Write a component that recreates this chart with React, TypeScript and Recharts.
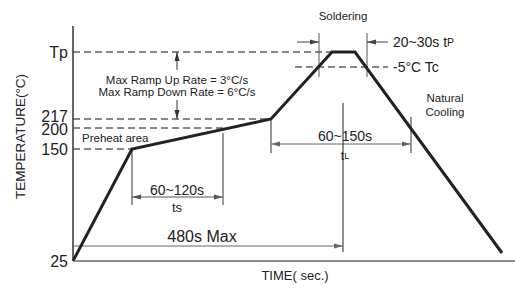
import React from "react";
import {
  LineChart,
  Line,
  XAxis,
  YAxis,
  ReferenceLine,
  ReferenceDot,
} from "recharts";

const FONT = "'Liberation Sans', Arial, Helvetica, sans-serif";

// schematic profile (time units and temperature levels are drawing units, the chart is not to scale)
const profileTime = [0, 59, 198, 259, 282, 429];
const profileLevel = [0, 112, 142, 209, 209, 8];

// y ticks
const tickLabels = ["25", "150", "200", "217", "Tp"];
const tickLevels = [0, 112, 133, 142, 209];
// small vertical nudges so 200 and 217 do not run into each other
const tickNudge = [0, 0, 1, -3, 0];
// where each dashed guide meets the curve (150, 200, 217, Tp)
const guideEnds = [59, 152, 198, 259];
const tcLevel = 194;

const data = profileTime.map((t, i) => ({ t, v: profileLevel[i] }));

type Seg = { x1: number; y1: number; x2: number; y2: number; start?: boolean; end?: boolean; color?: string };

const dims: Seg[] = [
  // max ramp rate arrows
  { x1: 104, y1: 191, x2: 104, y2: 209, end: true, color: "#333" },
  { x1: 104, y1: 161, x2: 104, y2: 142, end: true, color: "#333" },
  // ts
  { x1: 59, y1: 112, x2: 59, y2: 56, color: "#333" },
  { x1: 150, y1: 128, x2: 150, y2: 56, color: "#333" },
  { x1: 59, y1: 64, x2: 150, y2: 64, start: true, end: true, color: "#555" },
  // soldering tp
  { x1: 246, y1: 228, x2: 246, y2: 184, color: "#555" },
  { x1: 294, y1: 228, x2: 294, y2: 184, color: "#555" },
  { x1: 224, y1: 219, x2: 246, y2: 219, end: true, color: "#444" },
  { x1: 315, y1: 219, x2: 294, y2: 219, end: true, color: "#444" },
  // tL
  { x1: 198, y1: 142, x2: 198, y2: 108, color: "#333" },
  { x1: 338, y1: 144, x2: 338, y2: 108, color: "#333" },
  { x1: 198, y1: 117, x2: 338, y2: 117, start: true, end: true, color: "#666" },
  // 480s max
  { x1: 270, y1: 158, x2: 270, y2: 9, color: "#222" },
  { x1: 0, y1: 15, x2: 270, y2: 15, end: true, color: "#666" },
];

type Note = { t: number; v: number; text: string; sub?: string; size: number; anchor?: "start" | "middle" | "end" };

const notes: Note[] = [
  { t: 270, v: 245, text: "Soldering", size: 11.5 },
  { t: 320, v: 219, text: "20~30s t", sub: "P", size: 14, anchor: "start" },
  { t: 320, v: 194, text: "-5°C Tc", size: 14, anchor: "start" },
  { t: 104, v: 181, text: "Max Ramp Up Rate = 3°C/s", size: 11.5 },
  { t: 104, v: 169, text: "Max Ramp Down Rate = 6°C/s", size: 11.5 },
  { t: 9, v: 123, text: "Preheat area", size: 11.5, anchor: "start" },
  { t: 372, v: 163, text: "Natural", size: 11.5 },
  { t: 372, v: 149, text: "Cooling", size: 11.5 },
  { t: 272, v: 125, text: "60~150s", size: 14 },
  { t: 272, v: 105, text: "t", sub: "L", size: 12 },
  { t: 104, v: 71, text: "60~120s", size: 14 },
  { t: 104, v: 54, text: "ts", size: 13 },
  { t: 129, v: 25, text: "480s Max", size: 16 },
];

const head = (x: number, y: number, fx: number, fy: number, color: string) => {
  const dx = x - fx;
  const dy = y - fy;
  const len = Math.hypot(dx, dy) || 1;
  const ux = dx / len;
  const uy = dy / len;
  const bx = x - ux * 9;
  const by = y - uy * 9;
  const px = -uy * 2.5;
  const py = ux * 2.5;
  return <polygon points={`${x},${y} ${bx + px},${by + py} ${bx - px},${by - py}`} fill={color} />;
};

const arrowShape = (s: Seg) => (p: any) => {
  const c = s.color || "#444";
  const { x1, y1, x2, y2 } = p;
  return (
    <g>
      <line x1={x1} y1={y1} x2={x2} y2={y2} stroke={c} strokeWidth={1} />
      {s.start && head(x1, y1, x2, y2, c)}
      {s.end && head(x2, y2, x1, y1, c)}
    </g>
  );
};

const noteShape = (n: Note) => (p: any) => (
  <text
    x={p.cx}
    y={p.cy}
    textAnchor={n.anchor || "middle"}
    dominantBaseline="central"
    fontSize={n.size}
    fontFamily={FONT}
    fill="#222"
  >
    {n.text}
    {n.sub && <tspan fontSize={n.size * 0.75}>{n.sub}</tspan>}
  </text>
);

const YTick = (p: any) => {
  const i = tickLevels.indexOf(p.payload.value);
  return (
    <text
      x={p.x}
      y={p.y + (tickNudge[i] || 0)}
      textAnchor="end"
      dominantBaseline="central"
      fontSize={16}
      fontFamily={FONT}
      fill="#222"
    >
      {tickLabels[i] ?? ""}
    </text>
  );
};

const yTitle = (p: any) => {
  const vb = p.viewBox || { x: 0, y: 26, height: 235 };
  const cx = vb.x + 20;
  const cy = vb.y + vb.height / 2 - 7;
  return (
    <text
      x={cx}
      y={cy}
      transform={`rotate(-90 ${cx} ${cy})`}
      textAnchor="middle"
      dominantBaseline="central"
      fontSize={13.5}
      fontFamily={FONT}
      fill="#222"
    >
      TEMPERATURE(°C)
    </text>
  );
};

const xTitle = (p: any) => {
  const vb = p.viewBox || { x: 73, y: 261, width: 442 };
  return (
    <text
      x={vb.x + vb.width / 2 + 1}
      y={vb.y + 14}
      textAnchor="middle"
      dominantBaseline="central"
      fontSize={13}
      fontFamily={FONT}
      fill="#222"
    >
      TIME( sec.)
    </text>
  );
};

export default function App() {
  return (
    <div style={{ position: "absolute", left: 0, top: 0, background: "#fff" }}>
      <LineChart width={515} height={290} data={data} margin={{ top: 26, right: 0, bottom: 0, left: 0 }}>
        <XAxis
          dataKey="t"
          type="number"
          domain={[0, 442]}
          ticks={[]}
          tick={false}
          tickLine={false}
          height={29}
          axisLine={{ stroke: "#666", strokeWidth: 1.5 }}
          label={xTitle}
        />
        <YAxis
          type="number"
          domain={[0, 235]}
          ticks={tickLevels}
          interval={0}
          width={73}
          tickLine={false}
          tickSize={3}
          tickMargin={2}
          tick={<YTick />}
          axisLine={{ stroke: "#333", strokeWidth: 1.5 }}
          label={yTitle}
        />
        {tickLevels.slice(1).map((lv, i) => (
          <ReferenceLine
            key={`g${i}`}
            segment={[{ x: 0, y: lv }, { x: guideEnds[i], y: lv }]}
            stroke="#111"
            strokeWidth={1}
            strokeDasharray="7 4"
          />
        ))}
        <ReferenceLine
          segment={[{ x: 222, y: tcLevel }, { x: 315, y: tcLevel }]}
          stroke="#111"
          strokeWidth={1}
          strokeDasharray="7 4"
        />
        {dims.map((s, i) => (
          <ReferenceLine
            key={`d${i}`}
            segment={[{ x: s.x1, y: s.y1 }, { x: s.x2, y: s.y2 }]}
            stroke={s.color}
            shape={arrowShape(s)}
          />
        ))}
        <Line
          dataKey="v"
          stroke="#222"
          strokeWidth={3}
          dot={false}
          isAnimationActive={false}
        />
        {notes.map((n, i) => (
          <ReferenceDot key={`n${i}`} x={n.t} y={n.v} r={0} ifOverflow="visible" shape={noteShape(n)} />
        ))}
      </LineChart>
    </div>
  );
}
